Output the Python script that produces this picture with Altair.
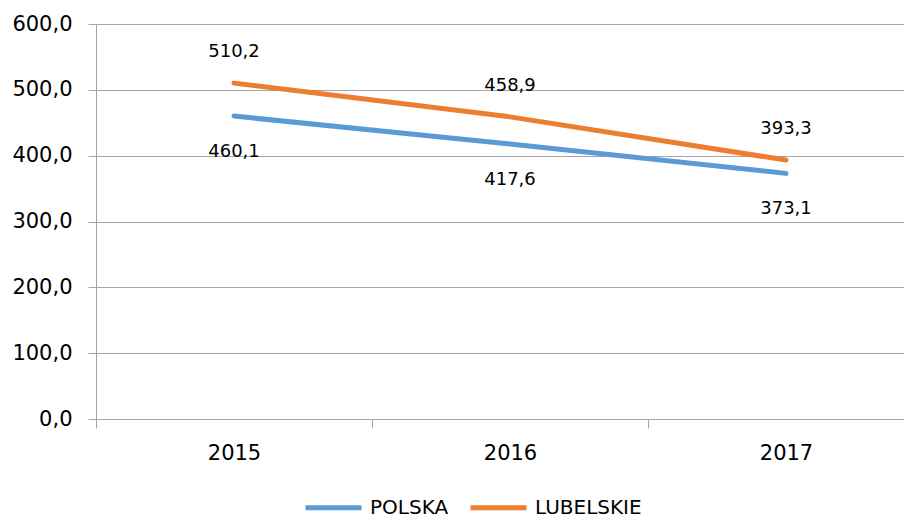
import altair as alt
import pandas as pd

years = [2015, 2016, 2017]
polska = [460.1, 417.6, 373.1]
lubelskie = [510.2, 458.9, 393.3]
series_names = ["POLSKA", "LUBELSKIE"]
colors = ["#5B9BD5", "#ED7D31"]
y_ticks = [0, 100, 200, 300, 400, 500, 600]

rows = []
for name, vals in zip(series_names, [polska, lubelskie]):
    for yr, v in zip(years, vals):
        rows.append({"year": yr, "value": v, "series": name})
df = pd.DataFrame(rows)

FONT = "DejaVu Sans"

x_enc = alt.X(
    "year:Q",
    scale=alt.Scale(domain=[2014.5, 2017.4275], nice=False, zero=False),
    axis=alt.Axis(
        title=None,
        values=[2014.5, 2015.5, 2016.5],
        labelExpr="format(datum.value + 0.5, 'd')",
        labelOffset=138,
        labelFlush=False,
        labelOverlap=False,
        labelBound=False,
        tickSize=9,
        labelPadding=14,
        grid=False,
        domain=True,
        domainColor="#A6A6A6",
        tickColor="#A6A6A6",
        labelFont=FONT,
        labelFontSize=21,
        labelColor="#000000",
    ),
)
y_enc = alt.Y(
    "value:Q",
    scale=alt.Scale(domain=[0, 600], nice=False),
    axis=alt.Axis(
        title=None,
        values=y_ticks,
        labelExpr="replace(format(datum.value, '.1f'), '.', ',')",
        tickSize=8,
        labelPadding=16,
        grid=True,
        gridColor="#A6A6A6",
        gridWidth=1,
        domain=True,
        domainColor="#A6A6A6",
        tickColor="#A6A6A6",
        labelFont=FONT,
        labelFontSize=21,
        labelColor="#000000",
    ),
)

color_enc = alt.Color(
    "series:N",
    scale=alt.Scale(domain=series_names, range=colors),
    legend=alt.Legend(
        title=None,
        orient="none",
        direction="horizontal",
        legendX=207,
        legendY=453,
        symbolType="stroke",
        symbolSize=3136,
        symbolStrokeWidth=5,
        labelFont=FONT,
        labelFontSize=20,
        labelColor="#000000",
        labelOffset=6,
        columnPadding=11,
    ),
)

base = alt.Chart(df)

lines = base.mark_line(strokeWidth=5, strokeCap="round").encode(
    x=x_enc, y=y_enc, color=color_enc, order="year:Q"
)

label_base = base.transform_calculate(
    label="replace(format(datum.value, '.1f'), '.', ',')"
)

labels_l = label_base.transform_filter(alt.datum.series == "LUBELSKIE").mark_text(
    font=FONT, fontSize=18, color="#000000", dy=-31, baseline="middle"
).encode(x="year:Q", y="value:Q", text="label:N")

labels_p = label_base.transform_filter(alt.datum.series == "POLSKA").mark_text(
    font=FONT, fontSize=18, color="#000000", dy=36, baseline="middle"
).encode(x="year:Q", y="value:Q", text="label:N")

chart = (
    alt.layer(lines, labels_l, labels_p)
    .properties(
        width=808,
        height=395,
        autosize=alt.AutoSizeParams(type="none"),
        padding={"left": 88, "top": 16, "right": 0, "bottom": 100},
    )
    .configure_view(stroke=None)
    .configure(background="#FFFFFF")
)

chart.save("out.html", embed_options={"renderer": "svg", "actions": False})
